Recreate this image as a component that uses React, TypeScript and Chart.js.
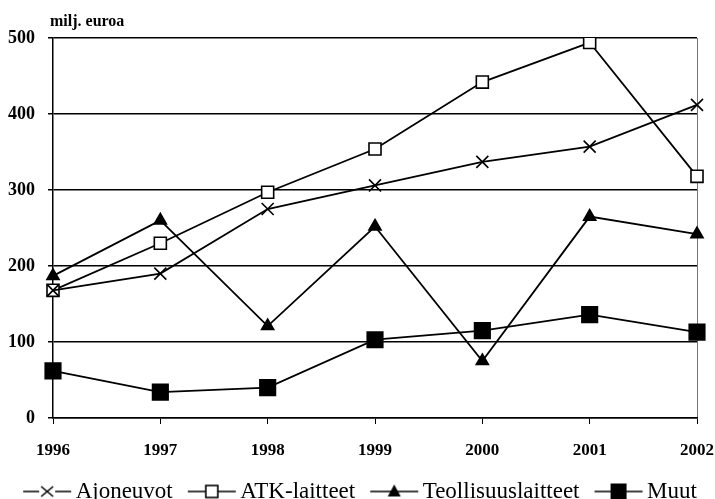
import React, { useEffect, useRef } from 'react';
import { Chart, registerables } from 'chart.js';

Chart.register(...registerables);

const years = ['1996', '1997', '1998', '1999', '2000', '2001', '2002'];
const ajoneuvot = [168, 190, 275, 306, 337, 357, 412];
const atkLaitteet = [168, 230, 297, 354, 442, 494, 318];
const teollisuuslaitteet = [187, 260, 121, 252, 75, 265, 242];
const muut = [62, 34, 40, 103, 115, 136, 113];
const seriesNames = ['Ajoneuvot', 'ATK-laitteet', 'Teollisuuslaitteet', 'Muut'];
const unitLabel = 'milj. euroa';
const yMin = 0;
const yMax = 500;
const yStep = 100;

const FONT = "'Liberation Serif', 'Times New Roman', serif";

type Kind = 'x' | 'openSquare' | 'triangle' | 'filledSquare';
const kinds: Kind[] = ['x', 'openSquare', 'triangle', 'filledSquare'];

const PSW = 46;
const EXTRA = 8;

function makeIcon(kind: Kind): HTMLCanvasElement {
  const W = PSW + EXTRA * 2;
  const H = 22;
  const c = document.createElement('canvas');
  c.width = W;
  c.height = H;
  const ctx = c.getContext('2d')!;
  const x1 = W - 1;
  const x0 = x1 - 48;
  const cy = H / 2;
  const cx = (x0 + x1) / 2;
  ctx.strokeStyle = '#000';
  ctx.fillStyle = '#000';
  ctx.lineWidth = 1.6;
  ctx.beginPath();
  ctx.moveTo(x0, cy);
  ctx.lineTo(x1, cy);
  ctx.stroke();
  if (kind === 'x') {
    ctx.clearRect(cx - 8, cy - 7, 16, 14);
    ctx.beginPath();
    ctx.moveTo(cx - 6, cy - 5);
    ctx.lineTo(cx + 6, cy + 5);
    ctx.moveTo(cx + 6, cy - 5);
    ctx.lineTo(cx - 6, cy + 5);
    ctx.stroke();
  } else if (kind === 'openSquare') {
    ctx.fillStyle = '#fff';
    ctx.fillRect(cx - 6, cy - 6, 12, 12);
    ctx.strokeRect(cx - 6, cy - 6, 12, 12);
  } else if (kind === 'triangle') {
    ctx.beginPath();
    ctx.moveTo(cx, cy - 7);
    ctx.lineTo(cx + 6.5, cy + 5);
    ctx.lineTo(cx - 6.5, cy + 5);
    ctx.closePath();
    ctx.fill();
  } else {
    ctx.fillRect(cx - 8, cy - 8, 16, 16);
  }
  return c;
}

const unitLabelPlugin = {
  id: 'unitLabel',
  afterDraw(chart: any) {
    const { ctx, chartArea } = chart;
    ctx.save();
    ctx.font = `bold 16px ${FONT}`;
    ctx.fillStyle = '#000';
    ctx.textAlign = 'left';
    ctx.textBaseline = 'alphabetic';
    ctx.fillText(unitLabel, chartArea.left - 3, chartArea.top - 12);
    ctx.restore();
  },
};

export default function App() {
  const canvasRef = useRef<HTMLCanvasElement | null>(null);

  useEffect(() => {
    document.body.style.margin = '0';
    const canvas = canvasRef.current;
    if (!canvas) return;
    const icons = kinds.map(makeIcon);
    const common = {
      borderColor: '#000',
      borderWidth: 1.8,
      pointBorderColor: '#000',
      pointBorderWidth: 1.6,
      tension: 0,
      fill: false,
    };
    const chart = new Chart(canvas, {
      type: 'line',
      data: {
        labels: years,
        datasets: [
          {
            ...common,
            label: seriesNames[0],
            data: ajoneuvot,
            pointStyle: 'crossRot',
            pointRadius: 8.5,
            pointBackgroundColor: '#000',
          },
          {
            ...common,
            label: seriesNames[1],
            data: atkLaitteet,
            pointStyle: 'rect',
            pointRadius: 8.5,
            pointBackgroundColor: '#fff',
          },
          {
            ...common,
            label: seriesNames[2],
            data: teollisuuslaitteet,
            pointStyle: 'triangle',
            pointRadius: 7,
            pointBackgroundColor: '#000',
          },
          {
            ...common,
            label: seriesNames[3],
            data: muut,
            pointStyle: 'rect',
            pointRadius: 11,
            pointBackgroundColor: '#000',
          },
        ],
      },
      options: {
        responsive: false,
        animation: false,
        devicePixelRatio: 1,
        layout: { padding: { top: 38, right: 0, left: 0, bottom: -14 } },
        plugins: {
          tooltip: { enabled: false },
          title: { display: false },
          legend: {
            position: 'bottom',
            labels: {
              usePointStyle: true,
              pointStyleWidth: PSW,
              padding: 10,
              color: '#000',
              font: { family: FONT, size: 23 },
              generateLabels: (ch: any) => {
                const base = Chart.defaults.plugins.legend.labels.generateLabels(ch);
                return base.map((item: any, i: number) => ({ ...item, pointStyle: icons[i] }));
              },
            },
          },
        },
        scales: {
          x: {
            type: 'category',
            offset: false,
            afterFit: (s: any) => {
              s.height = 52;
              s.paddingLeft = 0;
              s.paddingRight = 18;
            },
            grid: {
              display: true,
              drawOnChartArea: true,
              offset: false,
              color: (c: any) => (c.index === years.length - 1 ? '#777' : 'rgba(0,0,0,0)'),
              tickColor: '#000',
              tickLength: 6,
              lineWidth: 1,
            },
            border: { display: true, color: '#000', width: 1.5 },
            ticks: {
              color: '#000',
              padding: 16,
              maxRotation: 0,
              autoSkip: false,
              font: { family: FONT, size: 17, weight: 'bold' },
            },
          },
          y: {
            min: yMin,
            max: yMax,
            afterFit: (s: any) => {
              s.width = 53;
            },
            grid: {
              color: '#000',
              lineWidth: 1.5,
              tickLength: 5,
              tickColor: '#000',
            },
            border: { display: true, color: '#000', width: 1.5 },
            ticks: {
              stepSize: yStep,
              color: '#000',
              padding: 13,
              font: { family: FONT, size: 18, weight: 'bold' },
            },
          },
        },
      },
      plugins: [unitLabelPlugin],
    } as any);
    return () => chart.destroy();
  }, []);

  return (
    <div style={{ width: 715, height: 499, background: '#fff' }}>
      <canvas ref={canvasRef} width={715} height={499} style={{ display: 'block' }} />
    </div>
  );
}
